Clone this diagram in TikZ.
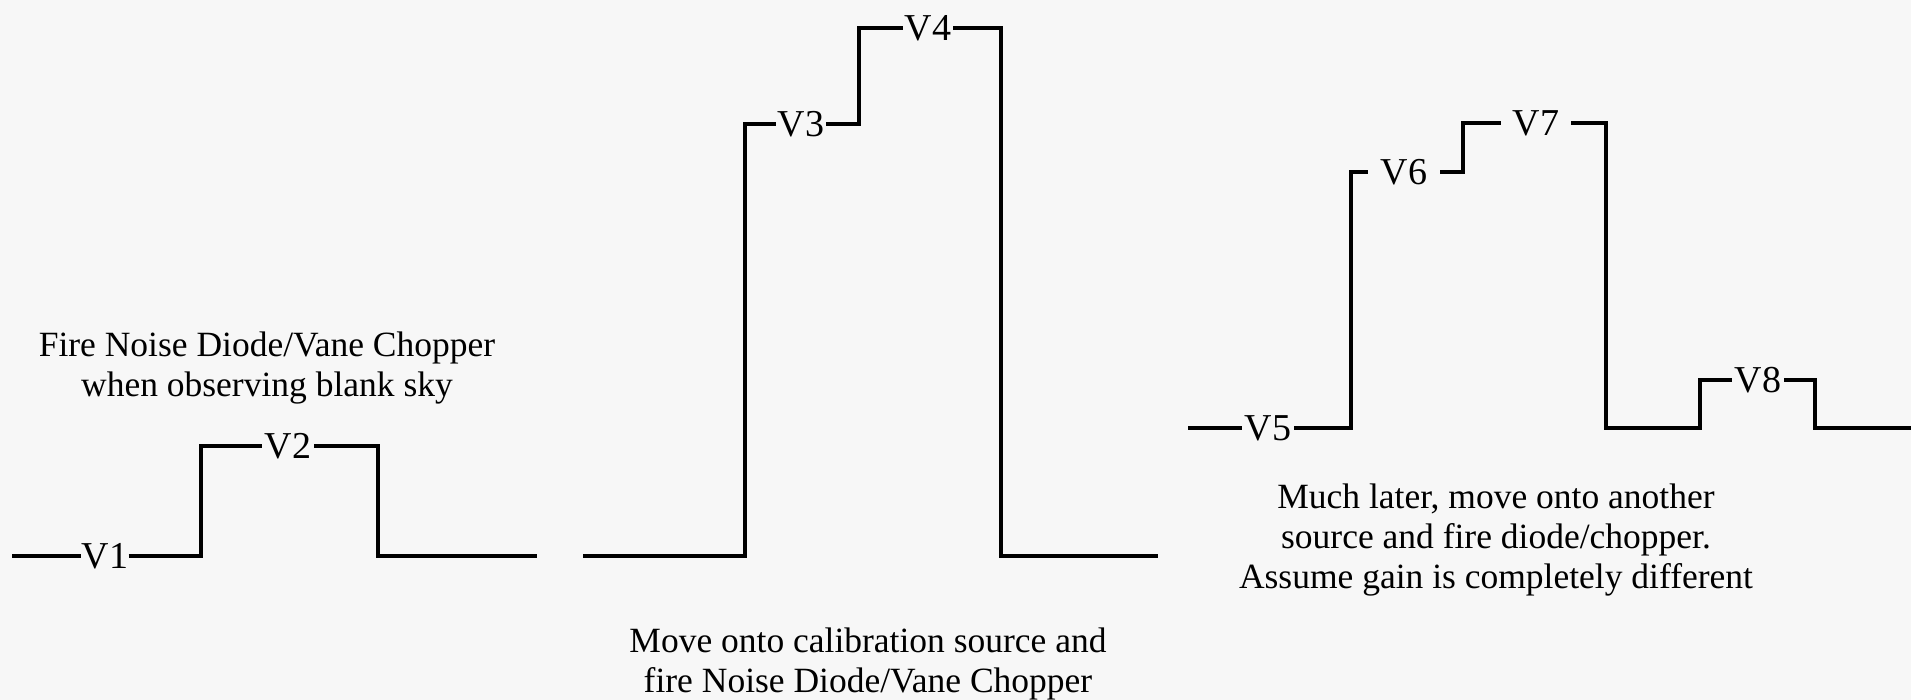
\documentclass[tikz,border=0pt]{standalone}
\usepackage{fontspec}
\setmainfont{Liberation Serif}
\definecolor{bg}{RGB}{247,247,247}
\begin{document}
\begin{tikzpicture}[x=1pt,y=-1pt,
  wave/.style={line width=4.5pt, line join=miter, line cap=butt},
  vlab/.style={inner sep=0pt, anchor=center, font=\fontsize{38}{40}\selectfont},
  note/.style={inner sep=0pt, align=center, font=\fontsize{35.5}{40}\selectfont}]
\fill[bg] (0,0) rectangle (1911,700);
\useasboundingbox (0,0) rectangle (1911,700);
% ---------- left waveform ----------
\coordinate (s1) at (12,556);
\node[vlab, minimum width=47pt] (V1) at (105,556) {V1};
\coordinate (a1) at (201,556);
\coordinate (b1) at (201,446);
\node[vlab, minimum width=52pt] (V2) at (288,446) {V2};
\coordinate (c1) at (378,446);
\coordinate (d1) at (378,556);
\coordinate (e1) at (537,556);
\draw[wave] (s1) -- (V1.west);
\draw[wave] (V1.east) -- (a1) -- (b1) -- (V2.west);
\draw[wave] (V2.east) -- (c1) -- (d1) -- (e1);
\node[note] (t1) at (267,368) {Fire Noise Diode/Vane Chopper\\when observing blank sky};
% ---------- middle waveform ----------
\coordinate (s2) at (583,556);
\coordinate (a2) at (745,556);
\coordinate (b2) at (745,124);
\node[vlab, minimum width=50pt] (V3) at (801,124) {V3};
\coordinate (c2) at (859,124);
\coordinate (d2) at (859,28);
\node[vlab, minimum width=50pt] (V4) at (928,28) {V4};
\coordinate (f2) at (1001,28);
\coordinate (g2) at (1001,556);
\coordinate (e2) at (1158,556);
\draw[wave] (s2) -- (a2) -- (b2) -- (V3.west);
\draw[wave] (V3.east) -- (c2) -- (d2) -- (V4.west);
\draw[wave] (V4.east) -- (f2) -- (g2) -- (e2);
\node[note] (t2) at (868,664) {Move onto calibration source and\\fire Noise Diode/Vane Chopper};
% ---------- right waveform ----------
\coordinate (s3) at (1188,428);
\node[vlab, minimum width=52pt] (V5) at (1268,428) {V5};
\coordinate (a3) at (1351,428);
\coordinate (b3) at (1351,172);
\node[vlab, minimum width=72pt] (V6) at (1404,172) {V6};
\coordinate (c3) at (1463,172);
\coordinate (d3) at (1463,123);
\node[vlab, minimum width=70pt] (V7) at (1536,123) {V7};
\coordinate (f3) at (1606,123);
\coordinate (g3) at (1606,428);
\coordinate (h3) at (1700,428);
\coordinate (i3) at (1700,380);
\node[vlab, minimum width=52pt] (V8) at (1758,380) {V8};
\coordinate (j3) at (1815,380);
\coordinate (k3) at (1815,428);
\coordinate (e3) at (1911,428);
\draw[wave] (s3) -- (V5.west);
\draw[wave] (V5.east) -- (a3) -- (b3) -- (V6.west);
\draw[wave] (V6.east) -- (c3) -- (d3) -- (V7.west);
\draw[wave] (V7.east) -- (f3) -- (g3) -- (h3) -- (i3) -- (V8.west);
\draw[wave] (V8.east) -- (j3) -- (k3) -- (e3);
\node[note] (t3) at (1496,540) {Much later, move onto another\\source and fire diode/chopper.\\Assume gain is completely different};
\end{tikzpicture}
\end{document}
